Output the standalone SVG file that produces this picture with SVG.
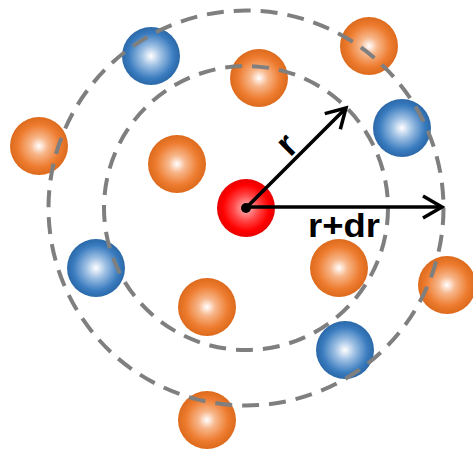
<svg xmlns="http://www.w3.org/2000/svg" width="473" height="455" viewBox="0 0 473 455">
<defs>
<radialGradient id="gOrange" cx="50%" cy="50%" r="50%">
<stop offset="0" stop-color="#FFFFFF"/>
<stop offset="0.3" stop-color="#F7B68A"/>
<stop offset="0.72" stop-color="#EE7D31"/>
<stop offset="1" stop-color="#DD6A1C"/>
</radialGradient>
<radialGradient id="gBlue" cx="50%" cy="50%" r="50%">
<stop offset="0" stop-color="#FFFFFF"/>
<stop offset="0.35" stop-color="#9DBFE3"/>
<stop offset="0.78" stop-color="#3A7CBF"/>
<stop offset="1" stop-color="#2A68A8"/>
</radialGradient>
<radialGradient id="gRed" cx="50%" cy="50%" r="50%">
<stop offset="0" stop-color="#FFC0C0"/>
<stop offset="0.45" stop-color="#FF4545"/>
<stop offset="0.8" stop-color="#FF0000"/>
<stop offset="1" stop-color="#E80000"/>
</radialGradient>
<marker id="arrow" markerUnits="userSpaceOnUse" markerWidth="26" markerHeight="28" refX="21" refY="13" orient="auto">
<path d="M2,2 L21,13 L2,24" fill="none" stroke="#000" stroke-width="3.5" stroke-linejoin="miter"/>
</marker>
</defs>
<style>
.o{fill:url(#gOrange)}
.b{fill:url(#gBlue)}
.red{fill:url(#gRed)}
.ring{fill:none;stroke:#7F7F7F;stroke-width:4;stroke-dasharray:17 10}
.arr{stroke:#000;stroke-width:3.5;fill:none;marker-end:url(#arrow)}
.lbl{font-family:"Liberation Sans",Arial,sans-serif;font-weight:bold;font-size:34px;fill:#000}
</style>
<g id="balls">
<circle id="b1" class="b" cx="151" cy="56" r="29"/>
<circle id="o1" class="o" cx="259" cy="78" r="29"/>
<circle id="o2" class="o" cx="369" cy="46" r="29"/>
<circle id="b2" class="b" cx="402" cy="128" r="29"/>
<circle id="o3" class="o" cx="39" cy="146" r="29"/>
<circle id="o4" class="o" cx="177" cy="164" r="29"/>
<circle id="b3" class="b" cx="96" cy="268" r="29"/>
<circle id="o5" class="o" cx="339" cy="268" r="29"/>
<circle id="o6" class="o" cx="447" cy="285" r="29"/>
<circle id="o7" class="o" cx="207" cy="307" r="29"/>
<circle id="b4" class="b" cx="345" cy="350" r="29"/>
<circle id="o8" class="o" cx="207" cy="420" r="29"/>
<circle id="center" class="red" cx="246" cy="208" r="29"/>
</g>
<g id="rings">
<circle class="ring" cx="246" cy="208" r="142"/>
<circle class="ring" cx="246" cy="208" r="197.5"/>
</g>
<g id="connectors">
<line class="arr" x1="246" y1="208" x2="346" y2="108"/>
<line class="arr" x1="246" y1="207" x2="442" y2="207"/>
<circle cx="246" cy="208" r="5" fill="#000"/>
</g>
<g id="labels">
<text class="lbl" x="286" y="144" text-anchor="middle" transform="rotate(-45 286 144)" dy="0.35em" style="font-size:36px">r</text>
<text class="lbl" x="308" y="237" textLength="72" lengthAdjust="spacingAndGlyphs">r+dr</text>
</g>
</svg>
